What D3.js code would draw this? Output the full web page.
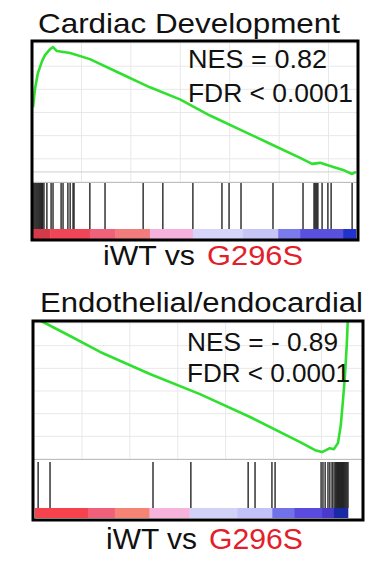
<!DOCTYPE html>
<html lang="en">
<head>
    <meta charset="UTF-8">
    <title>GSEA enrichment plots</title>
    <script src="https://cdnjs.cloudflare.com/ajax/libs/d3/7.8.5/d3.min.js"></script>
    <style>
        body { margin: 0; background: #fff; }
        text { font-family: Arial, "Liberation Sans", sans-serif; }
    </style>
</head>
<body>
    <div id="draw-here"></div>

    <script>
        // ---- Data: Cardiac Development ----
        var cardiacRank = [0, 0.6, 1.5, 2.8, 3.7, 5.3, 6.2, 7.4, 11.5, 17.6, 26.9, 36.2, 45.5, 54.8, 64.1, 73.4, 82.7, 86.4, 88.9, 92, 96, 98.8, 100];
        var cardiacES = [0.32, 0.41, 0.49, 0.55, 0.58, 0.61, 0.62, 0.60, 0.59, 0.56, 0.49, 0.42, 0.36, 0.28, 0.21, 0.14, 0.07, 0.04, 0.045, 0.03, 0.01, -0.01, 0.0];
        var cardiacHits = [0, 0.3, 0.6, 0.9, 1.2, 1.5, 1.8, 2.1, 2.4, 2.7, 3.0,
            3.4, 4.3, 5.6, 6.2, 8.7, 9.3, 10.8, 11.5, 12.4, 12.7, 17.6, 22.3, 34.1, 40.2,
            49.5, 58.5, 60.7, 64.4, 74.3, 83.6, 87, 87.3, 87.6, 87.9, 88.2, 89.5, 91.3, 92.3, 98.8];
        var cardiacBarStops = [0, 5.3, 17.6, 25.4, 36.2, 49.5, 65, 75.9, 82.7, 96, 100];
        var cardiacBarColors = ["#d63a4a", "#ef4556", "#f0627a", "#f27c7c", "#f6b2dc", "#d6d4f8", "#c6c6f6", "#7a7aec", "#5a50de", "#2232cc"];

        // ---- Data: Endothelial/endocardial ----
        var endoRank = [0, 3.2, 11.2, 20.8, 36.7, 52.7, 68.7, 84.7, 89.5, 91.7, 93, 94.2, 95.5, 96.8, 97.7, 98.4, 99, 99.6, 100];
        var endoES = [0.015, -0.010, -0.076, -0.157, -0.269, -0.371, -0.487, -0.614, -0.655, -0.665, -0.655, -0.645, -0.650, -0.619, -0.528, -0.401, -0.284, -0.122, 0.03];
        var endoHits = [1.0, 4.8, 37.7, 49.8, 68.1, 70.3, 75.7, 76.7, 91.4, 92, 92.7, 93.6, 94.2, 94.9, 95.2,
            95.8, 96.1, 96.4, 96.7, 97, 97.3, 97.6, 97.9, 98.2, 98.5, 98.8, 99.1, 99.4, 99.7, 100];
        var endoBarStops = [0, 16.9, 25.5, 36.6, 49.4, 64.6, 75.8, 82.8, 91.7, 95.5, 100];
        var endoBarColors = ["#f6424c", "#f0607a", "#f68474", "#f6b4dc", "#d2d2f8", "#c2c2f8", "#7272e8", "#5a4ade", "#4a3acc", "#1a2aa4"];

        var w = 387;
        var h = 563;

        var svg = d3.select("#draw-here")
            .append("svg")
            .attr("width", w)
            .attr("height", h);

        svg.append("rect").attr("width", w).attr("height", h).attr("fill", "#fff");

        drawPanel({
            id: "p1",
            title: "Cardiac Development", titleX: 38, titleY: 33, titleSize: 28, titleLen: 302,
            nes: "NES = 0.82", nesX: 188, nesY: 68, nesLen: 139,
            fdr: "FDR < 0.0001", fdrY: 102, fdrLen: 165,
            box: [32, 41, 358, 240],
            xRange: [33, 356],
            yDomain: [-0.05, 0.65], lineBottom: 182,
            hitsTop: 183, barTop: 229, barBottom: 239,
            zeroLine: true,
            rank: cardiacRank, es: cardiacES, hits: cardiacHits,
            stops: cardiacBarStops, colors: cardiacBarColors,
            labelY: 265, labelSize: 27, aX: 103, aLen: 92, bX: 207, bLen: 96
        });

        drawPanel({
            id: "p2",
            title: "Endothelial/endocardial", titleX: 40, titleY: 312, titleSize: 27, titleLen: 323,
            nes: "NES = - 0.89", nesX: 187, nesY: 351, nesLen: 151,
            fdr: "FDR < 0.0001", fdrY: 382, fdrLen: 163,
            box: [33, 321, 363, 520],
            xRange: [35, 348],
            yDomain: [-0.7, 0], lineBottom: 459,
            hitsTop: 462, barTop: 508, barBottom: 518,
            zeroLine: false,
            rank: endoRank, es: endoES, hits: endoHits,
            stops: endoBarStops, colors: endoBarColors,
            labelY: 549, labelSize: 29, aX: 106, aLen: 91, bX: 209, bLen: 94
        });

        function drawPanel(p) {
            var x0 = p.box[0], y0 = p.box[1], x1 = p.box[2], y1 = p.box[3];

            var x = d3.scaleLinear().domain([0, 100]).range(p.xRange);
            var y = d3.scaleLinear().domain(p.yDomain).range([p.lineBottom, y0]);

            var g = svg.append("g");

            // clip for the running score
            svg.append("clipPath").attr("id", "clip-" + p.id)
                .append("rect")
                .attr("x", x0).attr("y", y0)
                .attr("width", x1 - x0).attr("height", p.lineBottom - y0);

            // grid
            var vTicks = d3.range(15, 100, 15.3);
            g.selectAll(".vgrid")
                .data(vTicks)
                .enter().append("line")
                .attr("x1", function(d) { return x(d); })
                .attr("x2", function(d) { return x(d); })
                .attr("y1", y0).attr("y2", p.lineBottom)
                .attr("stroke", "#e8e8e8").attr("stroke-width", 1);

            var hTicks = d3.range(p.yDomain[0], p.yDomain[1], 0.115);
            g.selectAll(".hgrid")
                .data(hTicks)
                .enter().append("line")
                .attr("x1", x0).attr("x2", x1)
                .attr("y1", function(d) { return y(d); })
                .attr("y2", function(d) { return y(d); })
                .attr("stroke", "#e8e8e8").attr("stroke-width", 1);

            if (p.zeroLine) {
                g.append("line")
                    .attr("x1", x0).attr("x2", x1)
                    .attr("y1", y(0)).attr("y2", y(0))
                    .attr("stroke", "#cfcfcf").attr("stroke-width", 1);
            }

            // separator between score and hits
            g.append("line")
                .attr("x1", x0).attr("x2", x1)
                .attr("y1", p.lineBottom + 0.5).attr("y2", p.lineBottom + 0.5)
                .attr("stroke", "#bdbdbd").attr("stroke-width", 1);

            // running enrichment score
            var pts = p.rank.map(function(r, i) { return [r, p.es[i]]; });
            var line = d3.line()
                .x(function(d) { return x(d[0]); })
                .y(function(d) { return y(d[1]); });

            g.append("path")
                .datum(pts)
                .attr("clip-path", "url(#clip-" + p.id + ")")
                .attr("d", line)
                .attr("fill", "none")
                .attr("stroke", "#2fe02f")
                .attr("stroke-width", 2.6)
                .attr("stroke-linejoin", "round");

            // hits
            g.selectAll(".hit")
                .data(p.hits)
                .enter().append("line")
                .attr("x1", function(d) { return x(d); })
                .attr("x2", function(d) { return x(d); })
                .attr("y1", p.hitsTop).attr("y2", p.barTop)
                .attr("stroke", "#262626")
                .attr("stroke-width", 1.4);

            // ranked list colour bar
            var segs = p.colors.map(function(c, i) { return { a: p.stops[i], b: p.stops[i + 1], c: c }; });
            g.selectAll(".seg")
                .data(segs)
                .enter().append("rect")
                .attr("x", function(d) { return x(d.a); })
                .attr("width", function(d) { return x(d.b) - x(d.a) + 0.3; })
                .attr("y", p.barTop)
                .attr("height", p.barBottom - p.barTop)
                .attr("fill", function(d) { return d.c; });

            // frame
            g.append("rect")
                .attr("x", x0).attr("y", y0)
                .attr("width", x1 - x0).attr("height", y1 - y0)
                .attr("fill", "none")
                .attr("stroke", "#000")
                .attr("stroke-width", 3);

            // texts
            svg.append("text")
                .attr("x", p.titleX).attr("y", p.titleY)
                .attr("font-size", p.titleSize)
                .attr("textLength", p.titleLen)
                .attr("lengthAdjust", "spacingAndGlyphs")
                .attr("fill", "#111")
                .text(p.title);

            svg.append("text")
                .attr("x", p.nesX).attr("y", p.nesY)
                .attr("font-size", 25)
                .attr("textLength", p.nesLen)
                .attr("lengthAdjust", "spacingAndGlyphs")
                .attr("fill", "#111")
                .text(p.nes);

            svg.append("text")
                .attr("x", p.nesX).attr("y", p.fdrY)
                .attr("font-size", 25)
                .attr("textLength", p.fdrLen)
                .attr("lengthAdjust", "spacingAndGlyphs")
                .attr("fill", "#111")
                .text(p.fdr);

            svg.append("text")
                .attr("x", p.aX).attr("y", p.labelY)
                .attr("font-size", p.labelSize)
                .attr("textLength", p.aLen)
                .attr("lengthAdjust", "spacingAndGlyphs")
                .attr("fill", "#111")
                .text("iWT vs");

            svg.append("text")
                .attr("x", p.bX).attr("y", p.labelY)
                .attr("font-size", p.labelSize)
                .attr("textLength", p.bLen)
                .attr("lengthAdjust", "spacingAndGlyphs")
                .attr("fill", "#e3202a")
                .text("G296S");
        }
    </script>
</body>
</html>
